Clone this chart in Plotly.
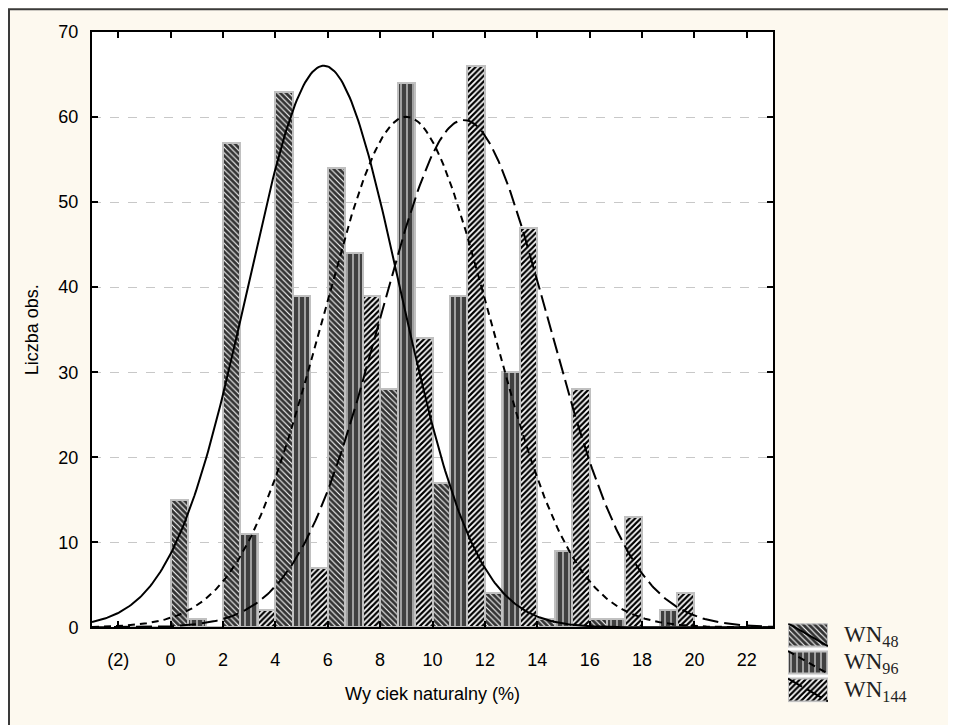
import numpy as np
import plotly.graph_objects as go

# ---- data ----
BIN_CENTERS = [-1, 1, 3, 5, 7, 9, 11, 13, 15, 17, 19, 21]
BIN_WIDTH = 2
WN48 = [0, 15, 57, 63, 54, 28, 17, 4, 1, 1, 0, 0]
WN96 = [0, 1, 11, 39, 44, 64, 39, 30, 9, 1, 2, 0]
WN144 = [0, 0, 2, 7, 39, 34, 66, 47, 28, 13, 4, 0]
SERIES_NAMES = ["WN<sub>48</sub>", "WN<sub>96</sub>", "WN<sub>144</sub>"]

# fitted normal curve parameters
FIT_MEAN = [5.85, 9.0, 11.2]
FIT_SD = [2.9, 3.19, 3.21]

X_TICK_VALS = [-2, 0, 2, 4, 6, 8, 10, 12, 14, 16, 18, 20, 22]
X_TICK_TEXT = ["(2)", "0", "2", "4", "6", "8", "10", "12", "14", "16", "18", "20", "22"]
Y_TICK_VALS = [0, 10, 20, 30, 40, 50, 60, 70]

series = [WN48, WN96, WN144]
patterns = [
    dict(shape="\\", bgcolor="#333333", fgcolor="#ffffff", size=4, solidity=0.28, fillmode="replace"),
    dict(shape="|", bgcolor="#404040", fgcolor="#ffffff", size=6, solidity=0.17, fillmode="replace"),
    dict(shape="/", bgcolor="#ffffff", fgcolor="#000000", size=4, solidity=0.55, fillmode="replace"),
]
dashes = ["solid", "7px,5px", "16px,6px"]
BAR_EDGE = dict(color="#c0c0c0", width=2)

# ---- geometry (figure pixels; page adds an 8px body margin) ----
W, H = 956, 725
L, T = 84, 24
PLOT_W, PLOT_BOTTOM = 681, 628
PAPER_W, PAPER_H = W - L, H - T


def paper_x(p):
    return (p - L) / PAPER_W


def paper_y(p):
    return (H - p) / PAPER_H


fig = go.Figure()

# histogram bars
for name, vals, pat in zip(SERIES_NAMES, series, patterns):
    fig.add_trace(go.Bar(
        x=BIN_CENTERS, y=vals, name=name, showlegend=False,
        marker=dict(color=pat["bgcolor"], pattern=pat, line=BAR_EDGE),
        hoverinfo="skip",
    ))

# fitted normal curves
xs = np.linspace(-3, 23, 400)
for vals, mu, sd, dash in zip(series, FIT_MEAN, FIT_SD, dashes):
    n = sum(vals)
    ys = n * BIN_WIDTH / (sd * np.sqrt(2 * np.pi)) * np.exp(-0.5 * ((xs - mu) / sd) ** 2)
    fig.add_trace(go.Scatter(
        x=xs, y=ys, mode="lines", showlegend=False,
        line=dict(color="#000000", width=2, dash=dash), hoverinfo="skip",
    ))

# custom legend: patterned swatches drawn on a small helper axis
LEG_STEP, LEG_BOX = 28, 23
annotations = []
for k, (name, pat, dash) in enumerate(zip(SERIES_NAMES, patterns, dashes)):
    base = LEG_STEP * k
    fig.add_trace(go.Bar(
        x=[0.5], y=[LEG_BOX], base=[base], width=[1], offset=-0.5,
        xaxis="x2", yaxis="y2", showlegend=False, hoverinfo="skip",
        marker=dict(color=pat["bgcolor"], pattern=pat, line=BAR_EDGE),
    ))
    fig.add_trace(go.Scatter(
        x=[0, 1], y=[base, base + LEG_BOX], mode="lines",
        xaxis="x2", yaxis="y2", showlegend=False, hoverinfo="skip",
        line=dict(color="#000000", width=2, dash=dash),
    ))
    annotations.append(dict(
        xref="paper", yref="paper", x=paper_x(834), y=paper_y(624 + base + LEG_BOX / 2 + 1),
        xanchor="left", yanchor="middle", showarrow=False, text=name,
        font=dict(family="Liberation Serif, Times New Roman, serif", size=23, color="#222222"),
    ))

fig.update_layout(
    width=W, height=H,
    margin=dict(l=L, r=0, t=T, b=0, pad=0),
    paper_bgcolor="#fdf9ef",
    plot_bgcolor="#ffffff",
    barmode="group", bargap=0, bargroupgap=0,
    font=dict(family="Liberation Sans, Arial, sans-serif", color="#000000", size=18),
    showlegend=False,
    annotations=annotations,
    shapes=[dict(
        type="rect", xref="paper", yref="paper",
        x0=paper_x(1), x1=paper_x(990), y0=paper_y(760), y1=paper_y(1),
        line=dict(color="#3a3a3a", width=2), fillcolor="rgba(0,0,0,0)", layer="above",
    )],
    xaxis=dict(
        domain=[0, PLOT_W / PAPER_W], anchor="y",
        range=[-3, 23], tickvals=X_TICK_VALS, ticktext=X_TICK_TEXT,
        showline=True, linecolor="#000000", linewidth=2, mirror="ticks",
        ticks="inside", ticklen=6, tickcolor="#000000", tickwidth=2,
        showgrid=False, zeroline=False,
        tickfont=dict(size=18), ticklabelstandoff=15,
        title=dict(text="Wy ciek naturalny (%)", font=dict(size=18), standoff=18),
    ),
    yaxis=dict(
        domain=[paper_y(PLOT_BOTTOM), 1], anchor="x",
        range=[0, 70], tickvals=Y_TICK_VALS,
        showline=True, linecolor="#000000", linewidth=2, mirror="ticks",
        ticks="inside", ticklen=6, tickcolor="#000000", tickwidth=2,
        showgrid=True, gridcolor="#c8c8c8", griddash="dash", gridwidth=1,
        zeroline=False,
        tickfont=dict(size=18), ticklabelstandoff=8,
        title=dict(text="Liczba obs.", font=dict(size=18), standoff=15),
    ),
    xaxis2=dict(domain=[paper_x(780), paper_x(820)], anchor="y2", range=[0, 1],
                visible=False, fixedrange=True),
    yaxis2=dict(domain=[paper_y(704), paper_y(624)], anchor="x2", range=[80, 0],
                visible=False, fixedrange=True),
)

fig.write_html("out.html")
